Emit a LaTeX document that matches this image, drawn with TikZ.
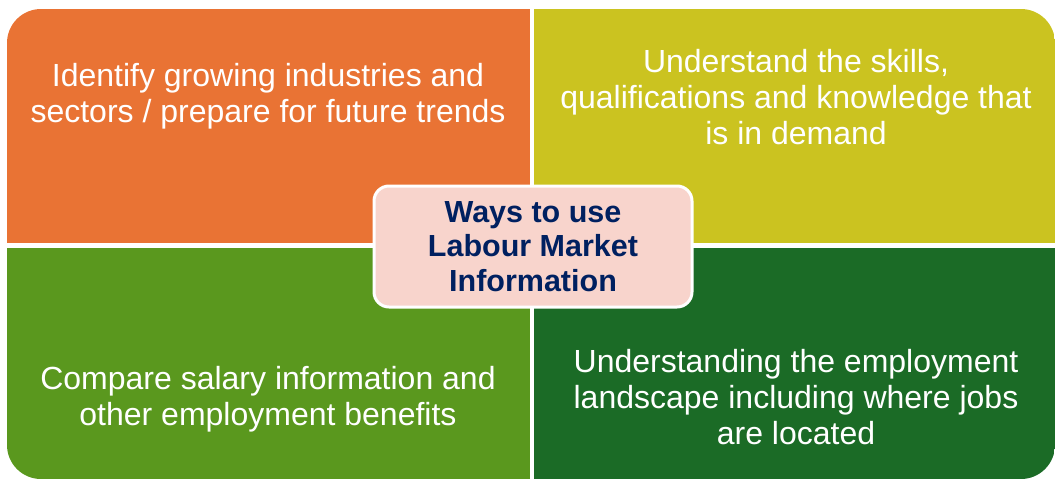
\documentclass[tikz,border=0pt]{standalone}
\usepackage{fontspec}
\setmainfont{Liberation Sans}
\usepackage{xcolor}
\usepackage{tikz}
\usetikzlibrary{positioning}
\definecolor{lmiorange}{RGB}{233,115,52}
\definecolor{lmiyellow}{RGB}{203,195,32}
\definecolor{lmigreen}{RGB}{90,152,30}
\definecolor{lmidark}{RGB}{27,107,38}
\definecolor{lmipink}{RGB}{248,212,204}
\definecolor{lminavy}{RGB}{0,32,96}

\begin{document}
\begin{tikzpicture}[
    x=1pt, y=-1pt,
    quadtext/.style={text=white, align=center,
                     font=\fontsize{32}{36}\selectfont},
    hubbox/.style={draw=white, line width=3pt, fill=lmipink,
                   rounded corners=15pt, text=lminavy, align=center,
                   minimum width=318pt, minimum height=121pt,
                   font=\fontsize{30.5}{34.5}\selectfont\bfseries},
]
    \useasboundingbox (0,0) rectangle (1056,479);

    % Quadrants
    \begin{scope}
        \clip[rounded corners=34pt] (7,9) rectangle (1055,479);
        \fill[lmiorange] (7,9)     rectangle (530,243);
        \fill[lmiyellow] (534,9)   rectangle (1055,243);
        \fill[lmigreen]  (7,248)   rectangle (530,479);
        \fill[lmidark]   (534,248) rectangle (1055,479);
    \end{scope}

    % Texts
    \node[quadtext] (trends)    at (268,96)
        {Identify growing industries and\\sectors / prepare for future trends};
    \node[quadtext] (skills)    at (796,97)
        {Understand the skills,\\qualifications and knowledge that\\is in demand};
    \node[quadtext] (salary)    at (268,399)
        {Compare salary information and\\other employment benefits};
    \node[quadtext] (landscape) at (796,397)
        {Understanding the employment\\landscape including where jobs\\are located};

    % Centre
    \node[hubbox] (ways) at (533,246.5)
        {Ways to use\\Labour Market\\Information};
\end{tikzpicture}
\end{document}
